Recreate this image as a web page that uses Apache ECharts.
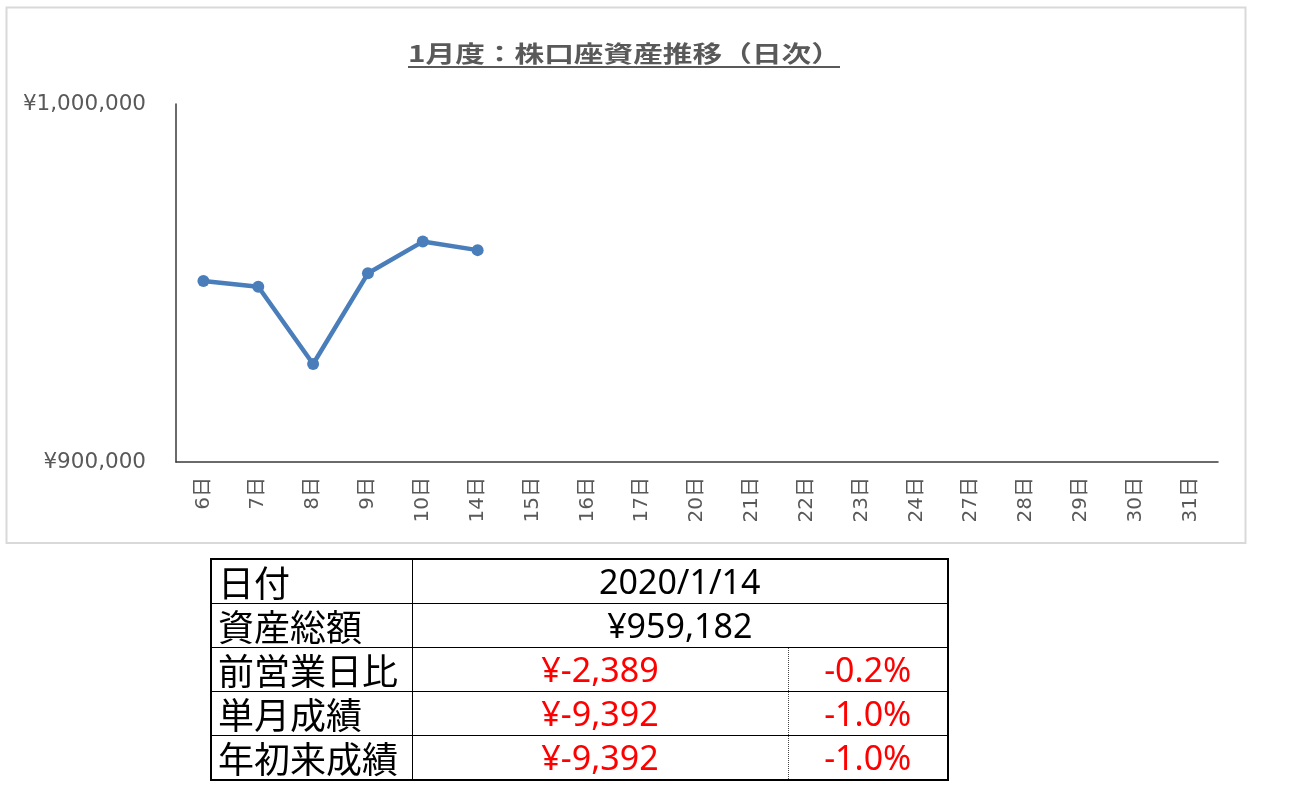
<!DOCTYPE html>
<html>
<head>
<meta charset="utf-8">
<script src="https://cdn.jsdelivr.net/npm/echarts@6/dist/echarts.min.js"></script>
<style>
  html, body { margin: 0; padding: 0; background: #fff; }
  #chart { position: absolute; left: 0; top: 0; width: 1299px; height: 790px; }
  #tbl { position: absolute; left: 210px; top: 558px; border-collapse: collapse; table-layout: fixed; border: 2px solid #000; }
  #tbl td { border: 1.5px solid #000; height: 43px; padding: 0; white-space: nowrap; overflow: hidden; }
  #tbl td.lab { font-family: "Noto Sans CJK JP", sans-serif; font-size: 36px; color: #000; padding-left: 6px; text-align: left; line-height: 43px; }
  #tbl td.val { font-family: "Noto Sans", "Noto Sans CJK JP", sans-serif; font-size: 34px; text-align: center; line-height: 43px; }
  #tbl td.neg { color: #ff0000; }
  #tbl td.dl { border-right: 1.5px dotted #444; }
  #tbl td.dr { border-left: 1.5px dotted #444; }
</style>
</head>
<body>
<div id="chart"></div>
<table id="tbl"></table>
<script>
// ---- chart data ----
const titleText = '1月度：株口座資産推移（日次）';
const days = ['6日','7日','8日','9日','10日','14日','15日','16日','17日','20日','21日','22日','23日','24日','27日','28日','29日','30日','31日'];
const assets = [950560, 948970, 927370, 952710, 961571, 959182];
const yMin = 900000;
const yMax = 1000000;
const yStep = 100000;

// ---- table data ----
const tableLabels = ['日付', '資産総額', '前営業日比', '単月成績', '年初来成績'];
const tableValues = ['2020/1/14', '¥959,182', '¥-2,389', '¥-9,392', '¥-9,392'];
const tablePcts = [null, null, '-0.2%', '-1.0%', '-1.0%'];

// build table
const tbl = document.getElementById('tbl');
const cg = document.createElement('colgroup');
[201, 376, 160].forEach(w => { const c = document.createElement('col'); c.style.width = w + 'px'; cg.appendChild(c); });
tbl.appendChild(cg);
tableLabels.forEach((lab, i) => {
  const tr = document.createElement('tr');
  const td0 = document.createElement('td'); td0.className = 'lab'; td0.textContent = lab; tr.appendChild(td0);
  if (tablePcts[i] === null) {
    const td1 = document.createElement('td'); td1.className = 'val'; td1.colSpan = 2; td1.textContent = tableValues[i]; tr.appendChild(td1);
  } else {
    const neg = tableValues[i].indexOf('-') >= 0;
    const td1 = document.createElement('td'); td1.className = 'val dl' + (neg ? ' neg' : ''); td1.textContent = tableValues[i]; tr.appendChild(td1);
    const td2 = document.createElement('td'); td2.className = 'val dr' + (tablePcts[i].indexOf('-') >= 0 ? ' neg' : ''); td2.textContent = tablePcts[i]; tr.appendChild(td2);
  }
  tbl.appendChild(tr);
});

const chart = echarts.init(document.getElementById('chart'), null, { renderer: 'canvas' });
const fmtYen = v => '¥' + Math.round(v).toString().replace(/\B(?=(\d{3})+(?!\d))/g, ',');

chart.setOption({
  animation: false,
  backgroundColor: '#fff',
  grid: { left: 176, right: 81, top: 104, bottom: 328, containLabel: false },
  xAxis: {
    type: 'category',
    data: days,
    boundaryGap: true,
    axisLine: { show: true, lineStyle: { color: '#3a3a3a', width: 1.5 } },
    axisTick: { show: false },
    axisLabel: {
      rotate: 90, interval: 0, margin: 15,
      color: '#595959', fontSize: 20,
      fontFamily: 'DejaVu Sans, "Noto Sans CJK JP", sans-serif'
    },
    splitLine: { show: false }
  },
  yAxis: {
    type: 'value',
    min: yMin, max: yMax, interval: yStep,
    axisLine: { show: true, lineStyle: { color: '#3a3a3a', width: 1.5 } },
    axisTick: { show: false },
    splitLine: { show: false },
    axisLabel: {
      margin: 30, color: '#595959', fontSize: 21.5,
      fontFamily: 'DejaVu Sans, sans-serif',
      formatter: fmtYen
    }
  },
  series: [{
    type: 'line',
    data: assets,
    symbol: 'circle',
    symbolSize: 12,
    lineStyle: { color: '#4a7ebb', width: 4.5 },
    itemStyle: { color: '#4a7ebb' },
    z: 3
  }],
  graphic: [
    {
      type: 'rect',
      shape: { x: 6.5, y: 7.5, width: 1239, height: 535.5 },
      style: { fill: 'none', stroke: '#d9d9d9', lineWidth: 2 },
      silent: true, z: -1
    },
    {
      type: 'text',
      x: 408, y: 53,
      scaleX: 1.29,
      style: {
        text: titleText,
        fill: '#595959',
        font: 'bold 23px "Noto Sans CJK JP", sans-serif',
        textAlign: 'left',
        textVerticalAlign: 'middle'
      }
    },
    {
      type: 'line',
      shape: { x1: 408, y1: 67, x2: 840, y2: 67 },
      style: { stroke: '#595959', lineWidth: 2 }
    }
  ]
});
</script>
</body>
</html>
